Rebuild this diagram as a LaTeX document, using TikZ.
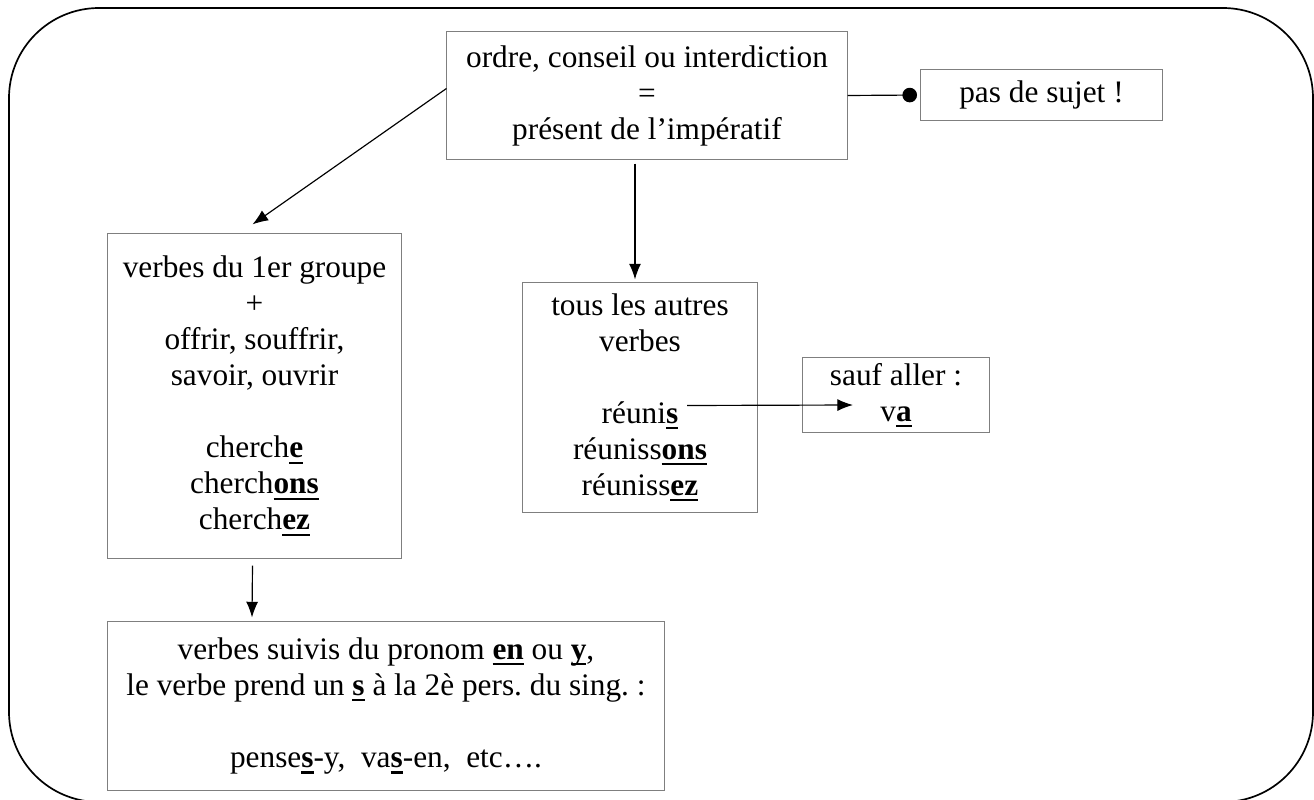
\documentclass[tikz,border=0pt]{standalone}
\usepackage{fontspec}
\setmainfont{Liberation Serif}
\usetikzlibrary{arrows.meta,calc}
\definecolor{boxline}{HTML}{7F7F7F}
\tikzstyle{text_box}=[rectangle,
                      draw=boxline,
                      line width=0.4pt,
                      align=center,
                      inner sep=0pt,
                      font=\fontsize{12pt}{13.8pt}\selectfont\frenchspacing ]
\tikzstyle{link_arrow}=[-{Latex[length=6pt,width=4.6pt]}, line width=0.45pt]
% bold, underlined with a thick rule
\newcommand{\ubf}[1]{\setbox0\hbox{\textbf{#1}}\rlap{\rule[-2.3pt]{\wd0}{0.8pt}}\box0\relax}

\begin{document}
\begin{tikzpicture}[x=0.3832pt, y=-0.3832pt]
  \useasboundingbox (0,0) rectangle (1314,800);
  \draw[line width=0.65pt, rounded corners=34.5pt] (9,8) rectangle (1313,802);

  \node at (647, 95.5) (T) [text_box, minimum width=153.3pt, minimum height=48.7pt]
    {ordre, conseil ou interdiction\\=\\présent de l’impératif};
  \node at (1041.5, 95) (P) [text_box, minimum width=92.4pt, minimum height=19.9pt]
    {pas de sujet !};
  \node at (254.5, 396) (G) [text_box, minimum width=113.0pt, minimum height=124.2pt]
    {verbes du 1er groupe\\+\\offrir, souffrir,\\savoir, ouvrir\\[13.8pt]
     cherch\ubf{e}\\cherch\ubf{ons}\\cherch\ubf{ez}};
  \node at (640, 397.5) (A) [text_box, minimum width=89.7pt, minimum height=87.8pt]
    {tous les autres\\verbes\\[13.8pt]
     réuni\ubf{s}\\réuniss\ubf{ons}\\réuniss\ubf{ez}};
  \node at (896, 395) (S) [text_box, minimum width=72.0pt, minimum height=28.4pt]
    {sauf aller :\\v\ubf{a}};
  \node at (386, 706) (B) [text_box, minimum width=213.8pt, minimum height=64.4pt]
    {verbes suivis du pronom \ubf{en} ou \ubf{y},\\
     le verbe prend un \ubf{s} à la 2è pers. du sing. :\\[13.8pt]
     pense\ubf{s}-y,\ \ va\ubf{s}-en,\ \ etc….};

  \coordinate (Rs) at ($(A.center)+(47,8)$);
  \coordinate (Va) at ($(S.center)+(-43,10)$);

  \draw[-{Circle[length=5.6pt]}, line width=0.45pt, shorten >=1.3pt] (T.east) -- (P.west);
  \draw[link_arrow] ($(T.west)+(0,-7)$) -- ($(G.north)+(-2,-9)$);
  \draw[link_arrow] ($(T.south)+(-12,4)$) -- ($(A.north)+(-5,-3)$);
  \draw[link_arrow] ($(G.south)+(-2,7)$) -- ($(B.north)+(-134,-4)$);
  \draw[link_arrow] (Rs) -- (Va);
\end{tikzpicture}
\end{document}
